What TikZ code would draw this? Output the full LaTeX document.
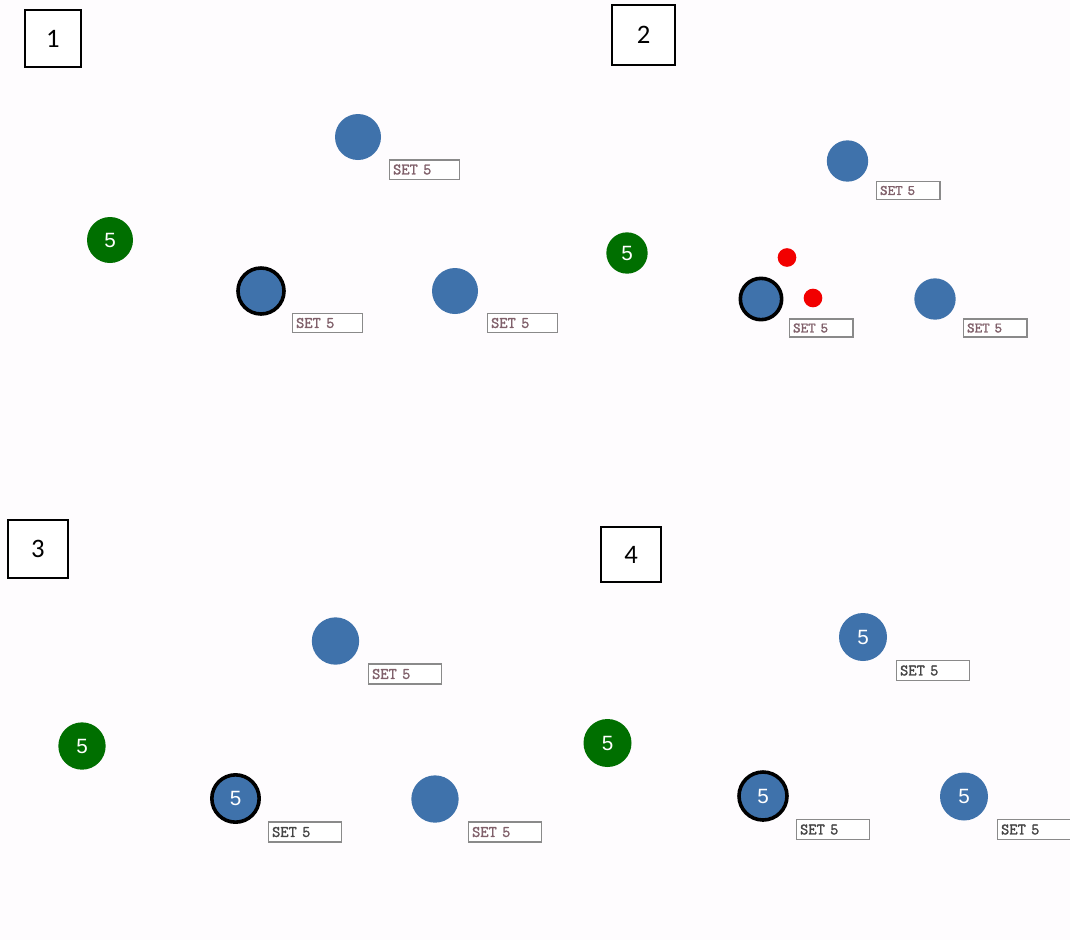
\documentclass[tikz,border=0pt]{standalone}
\usepackage{fontspec}
\newfontfamily\tagfont{Carlito}
\newfontfamily\ballfont{Liberation Sans}
\newfontfamily\labelfont{Latin Modern Mono}[FakeBold=1.6]
\definecolor{ballblue}{HTML}{3F72AB}
\definecolor{ballgreen}{HTML}{006F00}
\definecolor{dotred}{HTML}{F20000}
\definecolor{setrose}{HTML}{80606A}
\definecolor{setgray}{HTML}{454545}
\definecolor{boxgray}{HTML}{8A8A8A}
\definecolor{paper}{HTML}{FEFCFE}
\tikzset{
  ball/.style={circle, fill=ballblue, inner sep=0pt, text=white,
    font=\ballfont\fontsize{15.5}{15.5}\selectfont},
  greenball/.style={ball, fill=ballgreen},
  ringed/.style={draw=black, line width=2.7pt},
  reddot/.style={circle, fill=dotred, inner sep=0pt, minimum size=14pt},
  setbox/.style={rectangle, draw=boxgray, line width=1.1pt, fill=white,
    inner xsep=2.5pt, inner ysep=0pt, align=left, anchor=west,
    text=setrose, font=\labelfont\fontsize{12}{12}\selectfont},
  setdark/.style={text=setgray},
  tag/.style={rectangle, draw=black, line width=0.9pt, fill=white, inner sep=0pt,
    font=\tagfont\fontsize{20}{20}\selectfont},
  % panel-specific sizes
  big/.style={minimum size=34.5pt},
  small/.style={minimum size=31pt},
  large/.style={minimum size=35.5pt},
  huge/.style={minimum size=36pt},
  set1/.style={setbox, text width=47.5pt, minimum height=14.6pt},
  set2/.style={setbox, text width=42.3pt, minimum height=13.5pt,
    font=\labelfont\fontsize{10.8}{10.8}\selectfont},
  set3/.style={setbox, text width=49.5pt, minimum height=15pt},
}
\begin{document}
\begin{tikzpicture}[x=0.75pt,y=-0.75pt]
\fill[paper] (0,0) rectangle (1070,940);
\useasboundingbox (0,0) rectangle (1070,940);

% ---------- panel 1 ----------
\node[tag, minimum width=42pt, minimum height=42.75pt] (tag1) at (53,38.5) {1};
\node[ball, big] (a1) at (358,137) {};
\node[set1] (a1s) at (389,169.5) {SET 5};
\node[greenball, big] (g1) at (110,240) {5};
\node[ball, big, ringed] (c1) at (261,291) {};
\node[set1] (c1s) at (292,323) {SET 5};
\node[ball, big] (b1) at (455,291) {};
\node[set1] (b1s) at (487,323) {SET 5};

% ---------- panel 2 ----------
\node[tag, minimum width=47.25pt, minimum height=45pt] (tag2) at (643.5,35) {2};
\node[ball, small] (a2) at (847.5,161) {};
\node[set2] (a2s) at (876,190.5) {SET 5};
\node[greenball, small] (g2) at (627,253) {5};
\node[reddot] (r21) at (787,257.5) {};
\node[reddot] (r22) at (813,298) {};
\node[ball, small, ringed] (c2) at (761,299) {};
\node[set2] (c2s) at (789,328) {SET 5};
\node[ball, small] (b2) at (935,299) {};
\node[set2] (b2s) at (963,328) {SET 5};

% ---------- panel 3 ----------
\node[tag, minimum width=45pt, minimum height=43.5pt] (tag3) at (38,549) {3};
\node[ball, large] (a3) at (335.5,641) {};
\node[set3] (a3s) at (368,674) {SET 5};
\node[greenball, large] (g3) at (82,746) {5};
\node[ball, large, ringed] (c3) at (235.5,798.5) {5};
\node[set3, setdark] (c3s) at (268,832) {SET 5};
\node[ball, large] (b3) at (435,799) {};
\node[set3] (b3s) at (468,832) {SET 5};

% ---------- panel 4 ----------
\node[tag, minimum width=45pt, minimum height=41.25pt] (tag4) at (631,554.5) {4};
\node[ball, huge] (a4) at (863,637) {5};
\node[set3, setdark] (a4s) at (896,670.5) {SET 5};
\node[greenball, huge] (g4) at (607.5,743) {5};
\node[ball, huge, ringed] (c4) at (763,796) {5};
\node[set3, setdark] (c4s) at (796,829.5) {SET 5};
\node[ball, huge] (b4) at (964,796.5) {5};
\node[set3, setdark] (b4s) at (997,829.5) {SET 5};
\end{tikzpicture}
\end{document}
